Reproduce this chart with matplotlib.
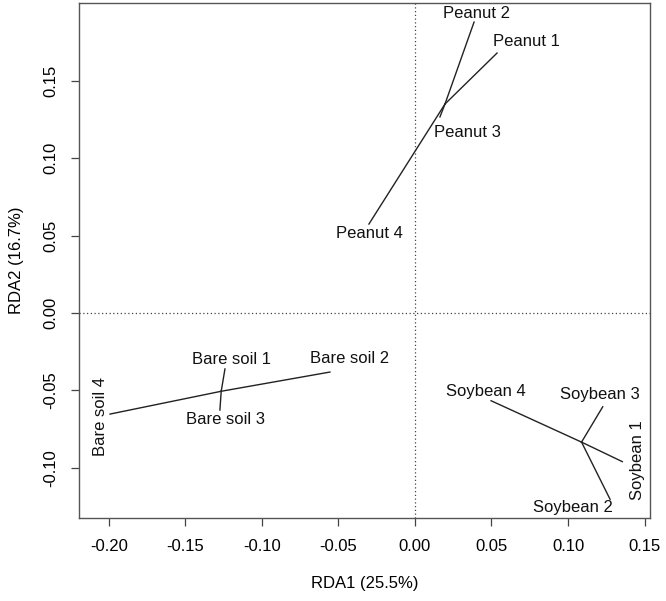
import numpy as np
import matplotlib
matplotlib.use("Agg")
import matplotlib.pyplot as plt

plt.rcParams['font.family'] = ['Liberation Sans', 'DejaVu Sans']

# site scores
groups = ["Peanut", "Bare soil", "Soybean"]
peanut_x = [0.0536, 0.0386, 0.0163, -0.0301]
peanut_y = [0.1677, 0.1877, 0.1265, 0.0574]
bare_x = [-0.1242, -0.0556, -0.1275, -0.1993]
bare_y = [-0.0361, -0.0381, -0.0626, -0.0652]
soy_x = [0.1355, 0.1275, 0.1227, 0.0497]
soy_y = [-0.0959, -0.1202, -0.0605, -0.0566]

xticks = [-0.20, -0.15, -0.10, -0.05, 0.00, 0.05, 0.10, 0.15]
yticks = [-0.10, -0.05, 0.00, 0.05, 0.10, 0.15]

# label offsets (points) and rotation per sample, order 1..4
peanut_off = [(21, 8, 0), (2, 6, 0), (20, -11, 0), (0, -7, 0)]
bare_off = [(5, 7, 0), (14, 10, 0), (4, -7, 0), (-7, -2, 90)]
soy_off = [(11, 1, 90), (-27, -6, 0), (-2, 9, 0), (-4, 7, 0)]

fig = plt.figure(figsize=(6.66, 6.01), dpi=100)
ax = fig.add_axes([0.1186, 0.138, 0.8574, 0.857])

ax.axvline(0, color="#444444", lw=0.9, ls=(0, (1, 2)))
ax.axhline(0, color="#444444", lw=0.9, ls=(0, (1, 2)))

data = [(peanut_x, peanut_y, peanut_off),
        (bare_x, bare_y, bare_off),
        (soy_x, soy_y, soy_off)]

for name, (xs, ys, offs) in zip(groups, data):
    cx, cy = np.mean(xs), np.mean(ys)
    for i, (x, y) in enumerate(zip(xs, ys)):
        ax.plot([cx, x], [cy, y], color="#222222", lw=1.0)
        dx, dy, rot = offs[i]
        ax.annotate(f"{name} {i + 1}", (x, y), xytext=(dx, dy),
                    textcoords="offset points", ha="center", va="center",
                    rotation=rot, fontsize=12, color="#111111")

ax.set_xlim(-0.2196, 0.1536)
ax.set_ylim(-0.1323, 0.2)
ax.set_xticks(xticks)
ax.set_xticklabels([f"{t:.2f}" for t in xticks])
ax.set_yticks(yticks)
ax.set_yticklabels([f"{t:.2f}" for t in yticks], rotation=90, va="center")
ax.tick_params(direction="out", length=6, width=0.9, color="#444444",
               labelsize=12, pad=9)
for s in ax.spines.values():
    s.set_color("#555555")
    s.set_linewidth(1.0)

ax.set_xlabel("RDA1 (25.5%)", fontsize=12, labelpad=16)
ax.set_ylabel("RDA2 (16.7%)", fontsize=12, labelpad=14)

fig.savefig("out.png", dpi=100)
